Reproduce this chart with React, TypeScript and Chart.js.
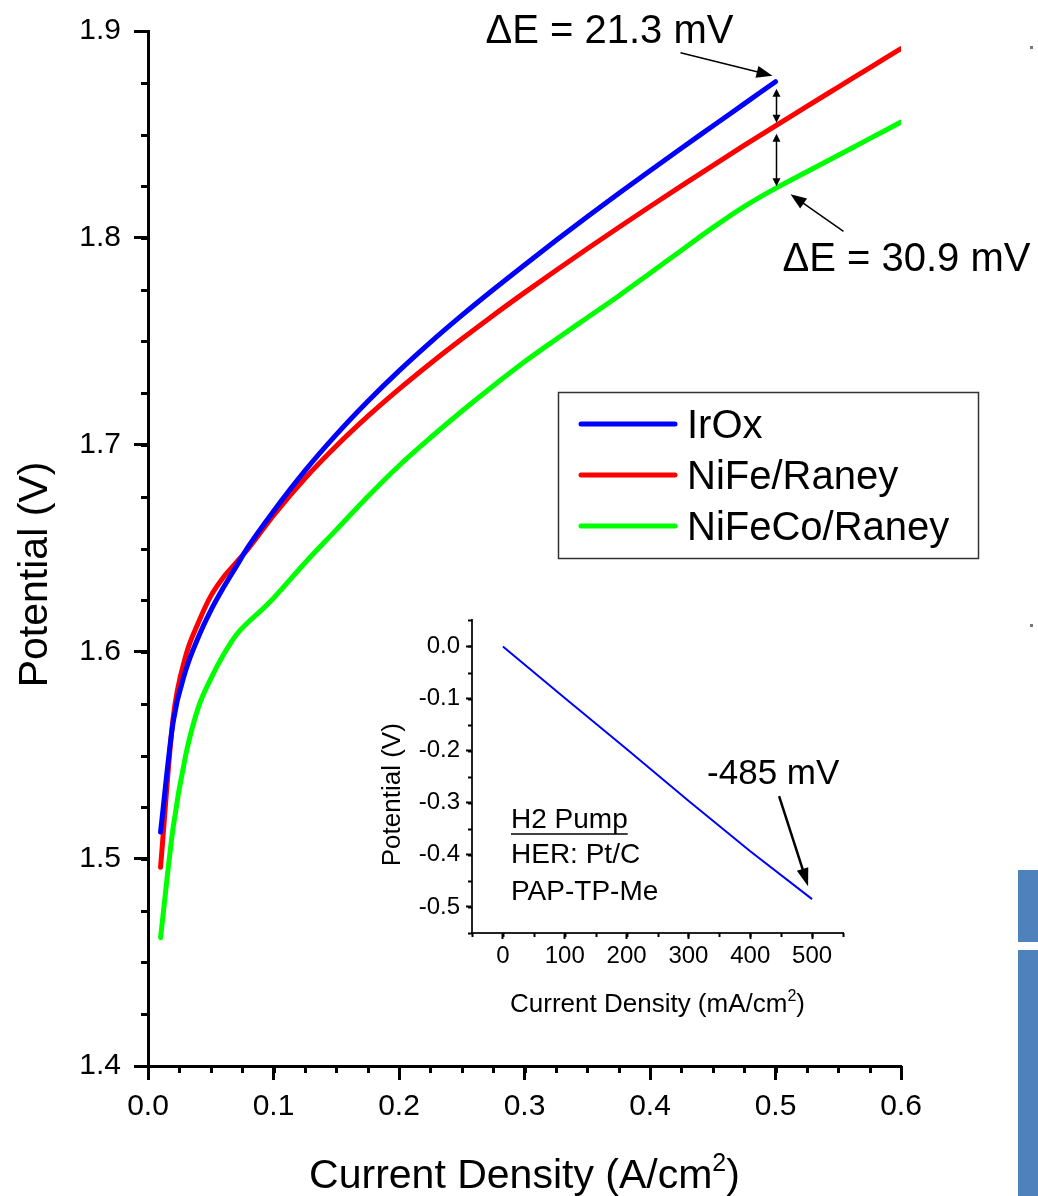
import React, { useEffect, useRef } from 'react';
import { Chart, registerables } from 'chart.js';

Chart.register(...registerables);

const FONT = '"Liberation Sans", Arial, Helvetica, sans-serif';

// ---------- data ----------
const seriesLabels = ['IrOx', 'NiFe/Raney', 'NiFeCo/Raney'];
const seriesColors = ['#0000FF', '#FF0000', '#00FF00'];

const irOxX = [0.01, 0.02, 0.03, 0.04, 0.05, 0.06, 0.07, 0.08, 0.1, 0.125, 0.15, 0.175, 0.2, 0.225, 0.25, 0.275, 0.3, 0.325, 0.35, 0.375, 0.4, 0.425, 0.45, 0.475, 0.5];
const irOxY = [1.513, 1.566, 1.591, 1.607, 1.620, 1.631, 1.641, 1.651, 1.668, 1.6875, 1.705, 1.721, 1.7358, 1.7496, 1.7626, 1.775, 1.787, 1.7988, 1.8103, 1.8215, 1.8325, 1.8434, 1.8541, 1.8648, 1.8755];

const niFeX = [0.01, 0.02, 0.03, 0.04, 0.05, 0.06, 0.07, 0.08, 0.1, 0.125, 0.15, 0.175, 0.2, 0.225, 0.25, 0.275, 0.3, 0.325, 0.35, 0.375, 0.4, 0.425, 0.45, 0.475, 0.5, 0.525, 0.55, 0.575, 0.6];
const niFeY = [1.496, 1.568, 1.598, 1.614, 1.627, 1.636, 1.643, 1.650, 1.666, 1.6838, 1.6995, 1.7138, 1.727, 1.7394, 1.7512, 1.7626, 1.7736, 1.7843, 1.7948, 1.8051, 1.8152, 1.8252, 1.835, 1.8447, 1.8542, 1.8636, 1.8729, 1.8822, 1.8915];

const niFeCoX = [0.01, 0.02, 0.03, 0.04, 0.05, 0.06, 0.07, 0.08, 0.09, 0.1, 0.125, 0.15, 0.175, 0.2, 0.225, 0.25, 0.275, 0.3, 0.325, 0.35, 0.375, 0.4, 0.425, 0.45, 0.475, 0.5, 0.525, 0.55, 0.575, 0.6];
const niFeCoY = [1.462, 1.515, 1.550, 1.573, 1.587, 1.5985, 1.608, 1.6145, 1.620, 1.626, 1.643, 1.659, 1.675, 1.690, 1.7035, 1.7163, 1.7285, 1.7402, 1.751, 1.7615, 1.772, 1.783, 1.794, 1.805, 1.8152, 1.824, 1.832, 1.840, 1.848, 1.856];

const mainXTicks = [0, 0.1, 0.2, 0.3, 0.4, 0.5, 0.6];
const mainYTicks = [1.4, 1.5, 1.6, 1.7, 1.8, 1.9];

const insetX = [0, 100, 200, 300, 400, 500];
const insetY = [0, -0.099, -0.197, -0.296, -0.393, -0.485];
const insetXTicks = [0, 100, 200, 300, 400, 500];
const insetYTicks = [0, -0.1, -0.2, -0.3, -0.4, -0.5];

const deltaLabels = ['\u0394E = 21.3 mV', '\u0394E = 30.9 mV'];
const deltaAt = 0.5;
const herLabel = '-485 mV';
const herPoint = 500;
const insetNotes = ['H2 Pump', 'HER: Pt/C', 'PAP-TP-Me'];

const mainXTitle = ['Current Density (A/cm', '2', ')'];
const mainYTitle = 'Potential (V)';
const insetXTitle = ['Current Density (mA/cm', '2', ')'];
const insetYTitle = 'Potential (V)';

// ---------- helpers ----------
const toPts = (xs: number[], ys: number[]) => xs.map((x, i) => ({ x, y: ys[i] }));

const valAt = (xs: number[], ys: number[], xv: number) => {
  for (let i = 0; i < xs.length - 1; i++) {
    if (xv >= xs[i] && xv <= xs[i + 1]) {
      const t = (xv - xs[i]) / (xs[i + 1] - xs[i]);
      return ys[i] + t * (ys[i + 1] - ys[i]);
    }
  }
  return ys[ys.length - 1];
};

const head = (ctx: CanvasRenderingContext2D, fx: number, fy: number, tx: number, ty: number, len: number, hw: number) => {
  const a = Math.atan2(ty - fy, tx - fx);
  const bx = tx - len * Math.cos(a);
  const by = ty - len * Math.sin(a);
  ctx.beginPath();
  ctx.moveTo(tx, ty);
  ctx.lineTo(bx + hw * Math.sin(a), by - hw * Math.cos(a));
  ctx.lineTo(bx - hw * Math.sin(a), by + hw * Math.cos(a));
  ctx.closePath();
  ctx.fill();
};

const arrow = (ctx: CanvasRenderingContext2D, x1: number, y1: number, x2: number, y2: number, lw: number, len: number, hw: number, both = false) => {
  const a = Math.atan2(y2 - y1, x2 - x1);
  const sx = both ? x1 + (len - 1) * Math.cos(a) : x1;
  const sy = both ? y1 + (len - 1) * Math.sin(a) : y1;
  ctx.lineWidth = lw;
  ctx.beginPath();
  ctx.moveTo(sx, sy);
  ctx.lineTo(x2 - (len - 1) * Math.cos(a), y2 - (len - 1) * Math.sin(a));
  ctx.stroke();
  head(ctx, x1, y1, x2, y2, len, hw);
  if (both) head(ctx, x2, y2, x1, y1, len, hw);
};

const supText = (ctx: CanvasRenderingContext2D, parts: string[], size: number, cx: number, base: number) => {
  const big = `${size}px ${FONT}`;
  const small = `${Math.round(size * 0.62)}px ${FONT}`;
  ctx.font = big;
  const w0 = ctx.measureText(parts[0]).width;
  const w2 = ctx.measureText(parts[2]).width;
  ctx.font = small;
  const w1 = ctx.measureText(parts[1]).width;
  let x = cx - (w0 + w1 + w2) / 2;
  ctx.textAlign = 'left';
  ctx.textBaseline = 'alphabetic';
  ctx.font = big;
  ctx.fillText(parts[0], x, base);
  x += w0;
  ctx.font = small;
  ctx.fillText(parts[1], x, base - size * 0.42);
  x += w1;
  ctx.font = big;
  ctx.fillText(parts[2], x, base);
};

const minorTicks = (ctx: CanvasRenderingContext2D, chart: any, xs: number[], ys: number[], len: number, lw: number) => {
  const { scales, chartArea } = chart;
  ctx.strokeStyle = '#000';
  ctx.lineWidth = lw;
  ctx.beginPath();
  xs.forEach((v) => {
    const p = Math.round(scales.x.getPixelForValue(v)) + 0.5;
    ctx.moveTo(p, chartArea.bottom);
    ctx.lineTo(p, chartArea.bottom + len);
  });
  ys.forEach((v) => {
    const p = Math.round(scales.y.getPixelForValue(v)) + 0.5;
    ctx.moveTo(chartArea.left, p);
    ctx.lineTo(chartArea.left - len, p);
  });
  ctx.stroke();
};

const range = (a: number, b: number, step: number) => {
  const out: number[] = [];
  const n = Math.round((b - a) / step);
  for (let i = 0; i <= n; i++) out.push(a + i * step);
  return out;
};

// ---------- plugins ----------
const mainDecor = {
  id: 'mainDecor',
  afterDraw(chart: any) {
    const { ctx, scales, chartArea } = chart;
    const { x, y } = scales;
    ctx.save();
    minorTicks(ctx, chart, range(0, 0.6, 0.025), range(1.4, 1.9, 0.025), 7, 3);

    ctx.fillStyle = '#000';
    ctx.strokeStyle = '#000';
    // axis titles
    supText(ctx, mainXTitle, 41, (chartArea.left + chartArea.right) / 2, chartArea.bottom + 122);
    ctx.save();
    ctx.translate(chartArea.left - 101, (chartArea.top + chartArea.bottom) / 2 + 26);
    ctx.rotate(-Math.PI / 2);
    ctx.font = `41px ${FONT}`;
    ctx.textAlign = 'center';
    ctx.textBaseline = 'alphabetic';
    ctx.fillText(mainYTitle, 0, 0);
    ctx.restore();

    // legend
    const lx = 558.5, ly = 392.5;
    ctx.lineWidth = 1.5;
    ctx.strokeStyle = '#333';
    ctx.strokeRect(lx, ly, 420, 166);
    chart.data.datasets.forEach((ds: any, i: number) => {
      const yy = 424 + i * 51;
      ctx.strokeStyle = ds.borderColor;
      ctx.lineWidth = 5;
      ctx.lineCap = 'round';
      ctx.beginPath();
      ctx.moveTo(581, yy);
      ctx.lineTo(675, yy);
      ctx.stroke();
      ctx.fillStyle = '#000';
      ctx.font = `40px ${FONT}`;
      ctx.textAlign = 'left';
      ctx.textBaseline = 'alphabetic';
      ctx.fillText(ds.label, 687, yy + 14);
    });
    ctx.lineCap = 'butt';

    // delta E annotations
    const px = x.getPixelForValue(deltaAt);
    const pB = y.getPixelForValue(valAt(irOxX, irOxY, deltaAt));
    const pR = y.getPixelForValue(valAt(niFeX, niFeY, deltaAt));
    const pG = y.getPixelForValue(valAt(niFeCoX, niFeCoY, deltaAt));
    ctx.fillStyle = '#000';
    ctx.strokeStyle = '#000';
    arrow(ctx, px + 1, pB + 7, px + 1, pR - 3, 1.5, 8, 4, true);
    arrow(ctx, px + 1, pR + 8, px + 1, pG - 2, 1.5, 8, 4, true);
    arrow(ctx, px - 95, pB - 29, px - 3, pB - 6, 1.5, 16, 6);
    arrow(ctx, px + 68, pG + 43, px + 15, pG + 6, 1.5, 16, 6);
    ctx.font = `40px ${FONT}`;
    ctx.textAlign = 'left';
    ctx.textBaseline = 'alphabetic';
    ctx.fillText(deltaLabels[0], px - 290, pB - 39);
    ctx.fillText(deltaLabels[1], px + 7, pG + 83);
    ctx.restore();
  },
};

const insetDecor = {
  id: 'insetDecor',
  afterDraw(chart: any) {
    const { ctx, scales, chartArea } = chart;
    const { x, y } = scales;
    ctx.save();
    minorTicks(ctx, chart, range(-50, 550, 50), range(-0.55, 0.05, 0.05), 4, 2);
    ctx.fillStyle = '#000';
    supText(ctx, insetXTitle, 26, (chartArea.left + chartArea.right) / 2, chartArea.bottom + 79);
    ctx.save();
    ctx.translate(chartArea.left - 72, (chartArea.top + chartArea.bottom) / 2 + 18);
    ctx.rotate(-Math.PI / 2);
    ctx.font = `26px ${FONT}`;
    ctx.textAlign = 'center';
    ctx.textBaseline = 'alphabetic';
    ctx.fillText(insetYTitle, 0, 0);
    ctx.restore();

    // notes
    ctx.font = `28px ${FONT}`;
    ctx.textAlign = 'left';
    ctx.textBaseline = 'alphabetic';
    const nx = chartArea.left + 39;
    const bases = [208, 243, 280];
    insetNotes.forEach((t, i) => ctx.fillText(t, nx, chartArea.top + bases[i]));
    const uw = ctx.measureText(insetNotes[0]).width;
    ctx.strokeStyle = '#000';
    ctx.lineWidth = 1.5;
    ctx.beginPath();
    ctx.moveTo(nx, chartArea.top + bases[0] + 5.5);
    ctx.lineTo(nx + uw, chartArea.top + bases[0] + 5.5);
    ctx.stroke();

    // -485 mV annotation
    const ax = x.getPixelForValue(herPoint);
    const ay = y.getPixelForValue(valAt(insetX, insetY, herPoint));
    arrow(ctx, ax - 33, ay - 103, ax - 4, ay - 13, 2.5, 18, 6);
    ctx.font = `35px ${FONT}`;
    ctx.fillText(herLabel, ax - 105, ay - 115);
    ctx.restore();
  },
};

// ---------- component ----------
export default function App() {
  const mainRef = useRef<HTMLCanvasElement>(null);
  const insetRef = useRef<HTMLCanvasElement>(null);

  useEffect(() => {
    Chart.defaults.font.family = FONT;
    const dsCommon = {
      borderWidth: 5,
      pointRadius: 0,
      fill: false,
      cubicInterpolationMode: 'monotone' as const,
      borderCapStyle: 'round' as const,
      borderJoinStyle: 'round' as const,
    };
    const main = new Chart(mainRef.current!, {
      type: 'line',
      data: {
        datasets: [
          { label: seriesLabels[0], data: toPts(irOxX, irOxY), borderColor: seriesColors[0], ...dsCommon },
          { label: seriesLabels[1], data: toPts(niFeX, niFeY), borderColor: seriesColors[1], ...dsCommon },
          { label: seriesLabels[2], data: toPts(niFeCoX, niFeCoY), borderColor: seriesColors[2], ...dsCommon },
        ],
      },
      options: {
        animation: false,
        responsive: false,
        events: [],
        layout: { padding: { left: 0, top: 30, right: 137, bottom: 0 } },
        plugins: { legend: { display: false }, tooltip: { enabled: false } },
        scales: {
          x: {
            type: 'linear',
            min: 0,
            max: 0.6,
            afterBuildTicks: (s: any) => { s.ticks = mainXTicks.map((v) => ({ value: v })); },
            afterFit: (s: any) => { s.height = 130; },
            ticks: { callback: (v: any) => Number(v).toFixed(1), font: { size: 30, family: FONT }, color: '#000', padding: 9, maxRotation: 0, autoSkip: false },
            grid: { display: true, drawOnChartArea: false, drawTicks: true, tickLength: 14, tickWidth: 3, tickColor: '#000' },
            border: { display: true, color: '#000', width: 3 },
          },
          y: {
            type: 'linear',
            min: 1.4,
            max: 1.9,
            afterBuildTicks: (s: any) => { s.ticks = mainYTicks.map((v) => ({ value: v })); },
            afterFit: (s: any) => { s.width = 148; },
            ticks: { callback: (v: any) => Number(v).toFixed(1), font: { size: 30, family: FONT }, color: '#000', padding: 13, autoSkip: false },
            grid: { display: true, drawOnChartArea: false, drawTicks: true, tickLength: 14, tickWidth: 3, tickColor: '#000' },
            border: { display: true, color: '#000', width: 3 },
          },
        },
      } as any,
      plugins: [mainDecor],
    });

    const inset = new Chart(insetRef.current!, {
      type: 'line',
      data: {
        datasets: [
          { label: 'H2 Pump', data: toPts(insetX, insetY), borderColor: '#0000FF', borderWidth: 2, pointRadius: 0, fill: false },
        ],
      },
      options: {
        animation: false,
        responsive: false,
        events: [],
        layout: { padding: { left: 0, top: 15, right: 17, bottom: 0 } },
        plugins: { legend: { display: false }, tooltip: { enabled: false } },
        scales: {
          x: {
            type: 'linear',
            min: -50,
            max: 550,
            afterBuildTicks: (s: any) => { s.ticks = insetXTicks.map((v) => ({ value: v })); },
            afterFit: (s: any) => { s.height = 97; },
            ticks: { callback: (v: any) => String(v), font: { size: 24, family: FONT }, color: '#000', padding: 3, maxRotation: 0, autoSkip: false },
            grid: { display: true, drawOnChartArea: false, drawTicks: true, tickLength: 6, tickWidth: 2, tickColor: '#000' },
            border: { display: true, color: '#222', width: 2 },
          },
          y: {
            type: 'linear',
            min: -0.55,
            max: 0.05,
            afterBuildTicks: (s: any) => { s.ticks = insetYTicks.map((v) => ({ value: v })); },
            afterFit: (s: any) => { s.width = 112; },
            ticks: { callback: (v: any) => Number(v).toFixed(1), font: { size: 24, family: FONT }, color: '#000', padding: 6, autoSkip: false },
            grid: { display: true, drawOnChartArea: false, drawTicks: true, tickLength: 6, tickWidth: 2, tickColor: '#000' },
            border: { display: true, color: '#222', width: 2 },
          },
        },
      } as any,
      plugins: [insetDecor],
    });

    return () => {
      main.destroy();
      inset.destroy();
    };
  }, []);

  return (
    <div style={{ position: 'absolute', left: 0, top: 0, width: 1038, height: 1196, background: '#fff', overflow: 'hidden' }}>
      <canvas ref={mainRef} width={1038} height={1196} style={{ position: 'absolute', left: 0, top: 0, width: 1038, height: 1196 }} />
      <canvas ref={insetRef} width={500} height={430} style={{ position: 'absolute', left: 360, top: 600, width: 500, height: 430 }} />
      <div style={{ position: 'absolute', left: 1018, top: 870, width: 20, height: 72, background: '#4F81BD' }} />
      <div style={{ position: 'absolute', left: 1018, top: 950, width: 20, height: 246, background: '#4F81BD' }} />
      <div style={{ position: 'absolute', left: 1030, top: 46, width: 3, height: 3, background: '#777' }} />
      <div style={{ position: 'absolute', left: 1030, top: 624, width: 3, height: 3, background: '#777' }} />
    </div>
  );
}
